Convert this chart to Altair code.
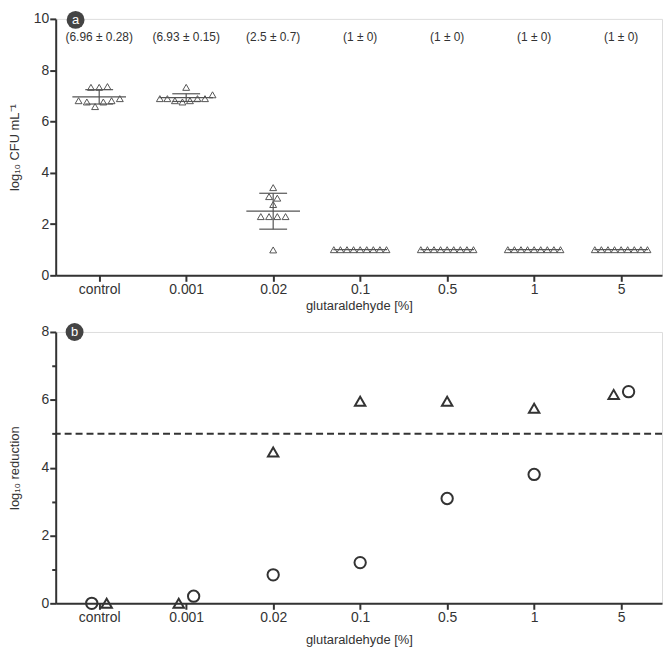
import altair as alt
import pandas as pd
import numpy as np

# ---------------- data ----------------
categories = ["control", "0.001", "0.02", "0.1", "0.5", "1", "5"]

# panel a: log10 CFU/mL, replicate values listed left-to-right as drawn
cfu_control = [6.81, 6.76, 7.33, 6.58, 7.33, 6.76, 7.36, 6.81, 6.89]
cfu_0001 = [6.89, 6.89, 6.81, 6.76, 7.33, 6.81, 6.89, 6.89, 7.04]
cfu_002 = [2.29, 3.07, 2.29, 3.42, 2.76, 0.99, 2.29, 3.01, 2.29]
cfu_01 = [1.0] * 9
cfu_05 = [1.0] * 9
cfu_1 = [1.0] * 9
cfu_5 = [1.0] * 9

means = [6.96, 6.93, 2.5, 1, 1, 1, 1]
sds = [0.28, 0.15, 0.7, 0, 0, 0, 0]
mean_labels = ["(6.96 ± 0.28)", "(6.93 ± 0.15)", "(2.5 ± 0.7)",
               "(1 ± 0)", "(1 ± 0)", "(1 ± 0)", "(1 ± 0)"]

# panel b: log10 reduction for two series
reduction_circle = [0.0, 0.21, 0.84, 1.20, 3.09, 3.80, 6.24]
reduction_triangle = [0.0, 0.0, 4.46, 5.96, 5.96, 5.75, 6.16]
threshold = [5]

# ---------------- layout constants ----------------
W = 610
HA = 258
HB = 273
XDOM = [-0.5, 6.47]
PX_PER_X = W / (XDOM[1] - XDOM[0])
YA_DOM = [0, 10]
YB_DOM = [0, 8]
TXT = "#333333"
AX = "#333333"
FONT = "Liberation Sans"

label_expr = "[" + ",".join("'" + c + "'" for c in categories) + "][datum.value]"


def swarm(vals, gap=0.2, spacing=8.3, maxhalf=26.5):
    vals = np.asarray(vals, dtype=float)
    order = np.argsort(vals, kind="stable")
    clusters, cur = [], [order[0]]
    for a, b in zip(order[:-1], order[1:]):
        if vals[b] - vals[a] < gap:
            cur.append(b)
        else:
            clusters.append(cur)
            cur = [b]
    clusters.append(cur)
    off = np.zeros(len(vals))
    for c in clusters:
        c = sorted(c)
        n = len(c)
        s = spacing if n == 1 else min(spacing, 2 * maxhalf / (n - 1))
        for k, i in enumerate(c):
            off[i] = (k - (n - 1) / 2) * s
    return off


groups = [cfu_control, cfu_0001, cfu_002, cfu_01, cfu_05, cfu_1, cfu_5]
rows = []
for idx, vals in enumerate(groups):
    offs = swarm(vals)
    for v, o in zip(vals, offs):
        rows.append({"cat": categories[idx], "x": idx + o / PX_PER_X, "v": v})
df_a = pd.DataFrame(rows)

df_stats = pd.DataFrame({
    "x": list(range(len(categories))),
    "cat": categories,
    "mean": means,
    "lo": [m - s for m, s in zip(means, sds)],
    "hi": [m + s for m, s in zip(means, sds)],
    "label": mean_labels,
})

# panel b dodge of overlapping markers
PX_PER_YB = HB / (YB_DOM[1] - YB_DOM[0])
rows_b = []
for idx in range(len(categories)):
    c, t = reduction_circle[idx], reduction_triangle[idx]
    oc = ot = 0.0
    if abs(c - t) * PX_PER_YB < 12:
        if c <= t:
            oc, ot = -7.5, 7.5
        else:
            oc, ot = 7.5, -7.5
    rows_b.append({"cat": categories[idx], "series": "circle", "x": idx + oc / PX_PER_X, "v": c})
    rows_b.append({"cat": categories[idx], "series": "triangle", "x": idx + ot / PX_PER_X, "v": t})
df_b = pd.DataFrame(rows_b)


# ---------------- axes ----------------
def x_axis(title_pad):
    return alt.Axis(values=list(range(len(categories))), labelExpr=label_expr,
                    title="glutaraldehyde [%]", grid=False, tickSize=6, tickWidth=2,
                    domainWidth=2, domainColor=AX, tickColor=AX, labelColor=TXT,
                    titleColor=TXT, labelFontSize=14, titleFontSize=13,
                    titleFontWeight="normal", labelPadding=1, titlePadding=title_pad,
                    labelFont=FONT, titleFont=FONT, labelOverlap=False, labelFlush=False)


def y_axis(title, n):
    return alt.Axis(values=list(range(n + 1)),
                    labelExpr="datum.value % 2 == 0 ? datum.label : ''",
                    title=title, grid=False,
                    tickSize={"condition": {"test": "datum.value % 2 == 1", "value": 4}, "value": 6},
                    tickWidth=2, domainWidth=2, domainColor=AX, tickColor=AX,
                    labelColor=TXT, titleColor=TXT, labelFontSize=14, titleFontSize=13,
                    titleFontWeight="normal", labelPadding=1, titlePadding=11,
                    minExtent=23, maxExtent=23, labelFont=FONT, titleFont=FONT,
                    labelOverlap=False)


xa = alt.X("x:Q", scale=alt.Scale(domain=XDOM, nice=False, zero=False), axis=x_axis(3))
xb = alt.X("x:Q", scale=alt.Scale(domain=XDOM, nice=False, zero=False), axis=x_axis(9.5))
ysa = alt.Scale(domain=YA_DOM, nice=False)
ysb = alt.Scale(domain=YB_DOM, nice=False)

# ---------------- panel a ----------------
pts_a = alt.Chart(df_a).mark_point(shape="triangle-up", filled=False, size=48,
                                   strokeWidth=1, color="#555555", opacity=1).encode(
    x=xa, y=alt.Y("v:Q", scale=ysa, axis=y_axis("log₁₀ CFU mL⁻¹", 10)))

mean_line = alt.Chart(df_stats).mark_rule(color="#555555", strokeWidth=1.2,
                                          xOffset=-27, x2Offset=27).encode(
    x="x:Q", x2="x:Q", y="mean:Q")
sd_hi = alt.Chart(df_stats).transform_filter("datum.hi > datum.lo").mark_rule(
    color="#555555", strokeWidth=1.2, xOffset=-14, x2Offset=14).encode(
    x="x:Q", x2="x:Q", y="hi:Q")
sd_lo = alt.Chart(df_stats).transform_filter("datum.hi > datum.lo").mark_rule(
    color="#555555", strokeWidth=1.2, xOffset=-14, x2Offset=14).encode(
    x="x:Q", x2="x:Q", y="lo:Q")
sd_v = alt.Chart(df_stats).transform_filter("datum.hi > datum.lo").mark_rule(
    color="#555555", strokeWidth=1.2).encode(x="x:Q", y="lo:Q", y2="hi:Q")

ann = alt.Chart(df_stats).mark_text(fontSize=12, color=TXT, font=FONT, baseline="middle").encode(
    x="x:Q", y=alt.value(18), text="label:N")

badge_df_a = pd.DataFrame({"t": ["a"]})
badge_a = alt.Chart(badge_df_a).mark_circle(size=324, color="#444444", opacity=1).encode(
    x=alt.value(20), y=alt.value(1))
badge_a_t = alt.Chart(badge_df_a).mark_text(color="white", fontSize=13, font=FONT,
                                            baseline="middle", dy=0).encode(
    x=alt.value(20), y=alt.value(1), text="t:N")

panel_a = alt.layer(pts_a, mean_line, sd_hi, sd_lo, sd_v, ann, badge_a, badge_a_t).properties(
    width=W, height=HA)

# ---------------- panel b ----------------
yb = alt.Y("v:Q", scale=ysb, axis=y_axis("log₁₀ reduction", 8))
dash = alt.Chart(pd.DataFrame({"v": threshold})).mark_rule(
    strokeDash=[7, 4], strokeWidth=2, color=AX).encode(y=yb)
tri_b = alt.Chart(df_b).transform_filter("datum.series == 'triangle'").mark_point(
    shape="triangle-up", filled=False, size=110, strokeWidth=2, color=AX, opacity=1).encode(
    x=xb, y=yb)
cir_b = alt.Chart(df_b).transform_filter("datum.series == 'circle'").mark_point(
    shape="circle", filled=False, size=130, strokeWidth=2, color=AX, opacity=1).encode(
    x=xb, y=yb)

badge_df_b = pd.DataFrame({"t": ["b"]})
badge_b = alt.Chart(badge_df_b).mark_circle(size=324, color="#444444", opacity=1).encode(
    x=alt.value(19), y=alt.value(0))
badge_b_t = alt.Chart(badge_df_b).mark_text(color="white", fontSize=13, font=FONT,
                                            baseline="middle").encode(
    x=alt.value(19), y=alt.value(0), text="t:N")

panel_b = alt.layer(dash, tri_b, cir_b, badge_b, badge_b_t).properties(width=W, height=HB)

chart = alt.vconcat(panel_a, panel_b, spacing=9).properties(padding=0).configure_view(
    stroke=None).configure(font=FONT)

chart.save("out.html", embed_options={"renderer": "svg", "actions": False})
